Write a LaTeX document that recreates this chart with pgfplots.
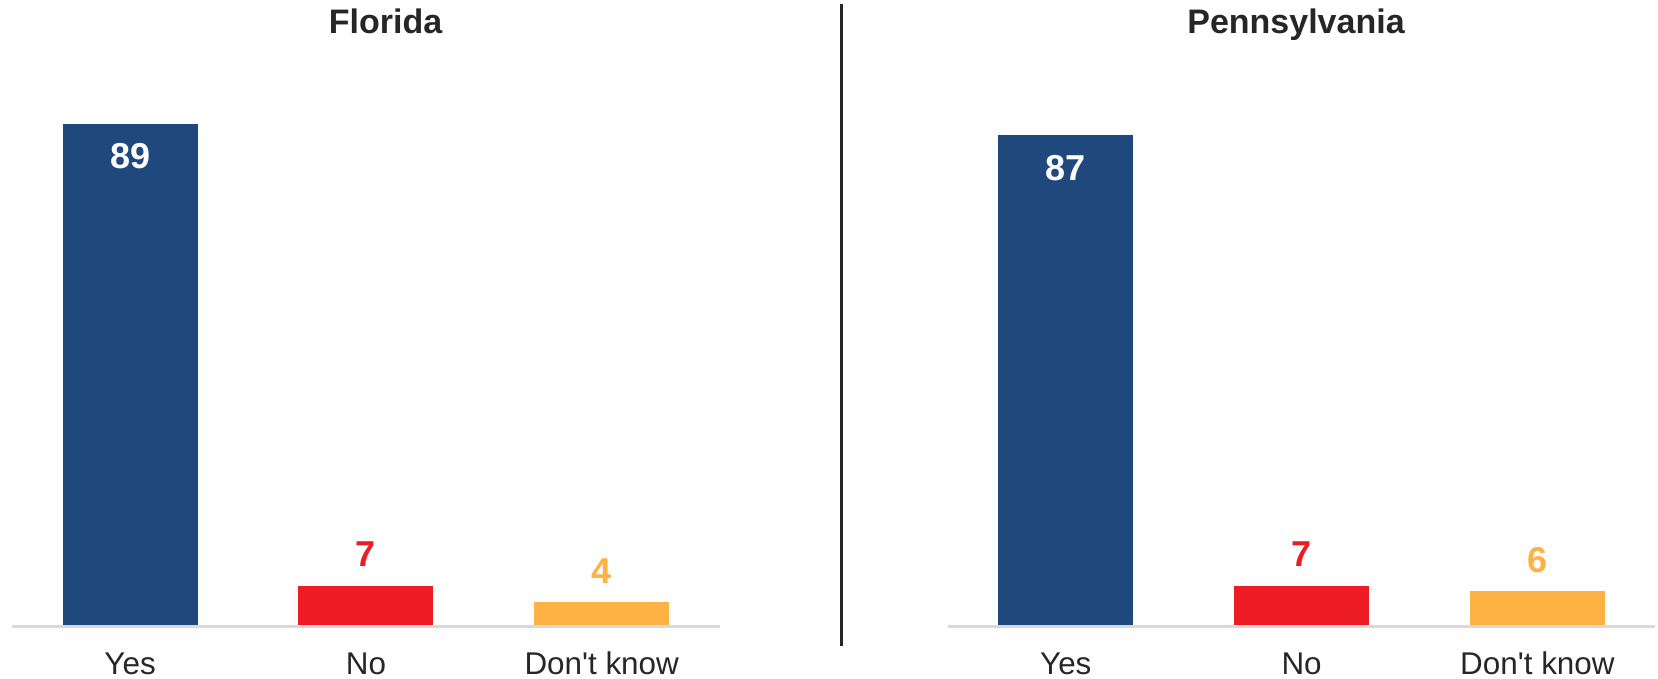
\documentclass[border=0pt]{standalone}
\usepackage{pgfplots}
\pgfplotsset{compat=1.18}
\usepackage{fontspec}
\setmainfont[Ligatures=TeXOff]{Liberation Sans}
\definecolor{cblue}{HTML}{1F497D}
\definecolor{cred}{HTML}{ED1C24}
\definecolor{corange}{HTML}{FFB244}
\definecolor{cgray}{HTML}{D9D9D9}
\definecolor{ctext}{HTML}{262626}
\pgfplotsset{panel/.style={
  scale only axis, width=353.7bp, height=281.5bp,
  xmin=-0.5, xmax=2.5, ymin=0, ymax=100,
  axis line style={draw=none}, ytick=\empty,
  xtick={0,1,2}, xticklabels={Yes,No,Don't know},
  major tick length=0pt,
  xticklabel style={anchor=base, yshift=-24.5bp, text=ctext, font=\fontsize{15.7bp}{18bp}\selectfont},
  clip=false, anchor=south west,
  /pgf/number format/assume math mode=true,
},
bv/.style={ybar, bar width=67.5bp, bar shift=0pt, draw=none, fill=#1,
  nodes near coords, nodes near coords style={anchor=base, yshift=9.5bp, text=#1, font=\fontsize{18bp}{20bp}\selectfont\bfseries}},
bvin/.style={ybar, bar width=67.5bp, bar shift=0pt, draw=none, fill=#1,
  nodes near coords, nodes near coords style={anchor=base, yshift=-22.5bp, text=white, font=\fontsize{18bp}{20bp}\selectfont\bfseries}},
}
\begin{document}
\begin{tikzpicture}
\path[use as bounding box] (0,0) rectangle (829bp,339.5bp);
\begin{axis}[panel, at={(6.1bp,27bp)}]
\addplot[bvin=cblue] coordinates {(0,89)};
\addplot[bv=cred] coordinates {(1,7)};
\addplot[bv=corange] coordinates {(2,4)};
\draw[cgray, line width=1.5bp] ([yshift=-0.75bp]rel axis cs:0,0) -- ([yshift=-0.75bp]rel axis cs:1,0);
\node[anchor=base, yshift=295.5bp, xshift=9.85bp, text=ctext, font=\fontsize{17bp}{20bp}\selectfont\bfseries] at (rel axis cs:0.5,0) {Florida};
\end{axis}
\begin{axis}[panel, at={(473.95bp,27bp)}]
\addplot[bvin=cblue] coordinates {(0,87)};
\addplot[bv=cred] coordinates {(1,7)};
\addplot[bv=corange] coordinates {(2,6)};
\draw[cgray, line width=1.5bp] ([yshift=-0.75bp]rel axis cs:0,0) -- ([yshift=-0.75bp]rel axis cs:1,0);
\node[anchor=base, yshift=295.5bp, xshift=-2.8bp, text=ctext, font=\fontsize{17bp}{20bp}\selectfont\bfseries] at (rel axis cs:0.5,0) {Pennsylvania};
\end{axis}
\draw[ctext, line width=1.5bp] (420.75bp,16.5bp) -- (420.75bp,337.5bp);
\end{tikzpicture}
\end{document}
